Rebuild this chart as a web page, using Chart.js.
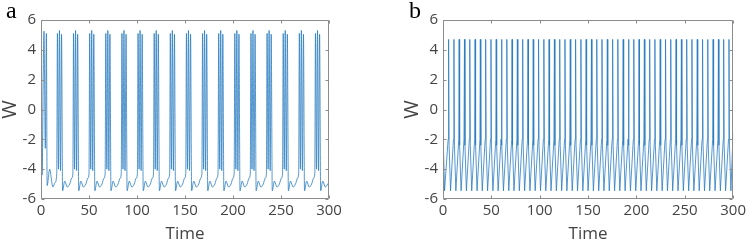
<!DOCTYPE html>
<html>
<head>
<meta charset="utf-8">
<script src="https://cdn.jsdelivr.net/npm/chart.js@4.4.1/dist/chart.umd.min.js"></script>
<style>
  body { margin: 0; background: #fff; }
  #wrap { position: relative; width: 749px; height: 243px; overflow: hidden; }
  .panel { position: absolute; top: 0; height: 243px; }
  .tag { position: absolute; font-family: "Liberation Serif", serif; font-size: 24px; color: #000; line-height: 1; }
</style>
</head>
<body>
<div id="wrap">
  <div class="panel" style="left:0;width:360px"><canvas id="chartA"></canvas></div>
  <div class="panel" style="left:402px;width:347px"><canvas id="chartB"></canvas></div>
  <div class="tag" style="left:6px;top:-2px">a</div>
  <div class="tag" style="left:409px;top:-2px">b</div>
</div>
<script>
// axis ticks
var xTicks = [0, 50, 100, 150, 200, 250, 300];
var yTicks = [-6, -4, -2, 0, 2, 4, 6];

// panel a: bursting, one burst per line
var timeA = [
  0, 0.4, 1.1, 3.1, 4.5, 5.6, 6.4, 9.0, 12.4, 14.6,
  16.4, 17.1, 18.2, 19.2, 20.3, 21.4, 22.5, 24.7, 27.4, 29.9, 32.0,
  33.2, 33.9, 35.0, 36.0, 37.1, 38.2, 39.3, 41.5, 44.2, 46.7, 48.8,
  50.0, 50.7, 51.8, 52.8, 53.9, 55.0, 56.1, 58.3, 61.0, 63.5, 65.6,
  66.8, 67.5, 68.6, 69.6, 70.7, 71.8, 72.9, 75.1, 77.8, 80.3, 82.4,
  83.6, 84.3, 85.4, 86.4, 87.5, 88.6, 89.7, 91.9, 94.6, 97.1, 99.2,
  100.4, 101.1, 102.2, 103.2, 104.3, 105.4, 106.5, 108.7, 111.4, 113.9, 116.0,
  117.2, 117.9, 119.0, 120.0, 121.1, 122.2, 123.3, 125.5, 128.2, 130.7, 132.8,
  134.0, 134.7, 135.8, 136.8, 137.9, 139.0, 140.1, 142.3, 145.0, 147.5, 149.6,
  150.8, 151.5, 152.6, 153.6, 154.7, 155.8, 156.9, 159.1, 161.8, 164.3, 166.4,
  167.6, 168.3, 169.4, 170.4, 171.5, 172.6, 173.7, 175.9, 178.6, 181.1, 183.2,
  184.4, 185.1, 186.2, 187.2, 188.3, 189.4, 190.5, 192.7, 195.4, 197.9, 200.0,
  201.2, 201.9, 203.0, 204.0, 205.1, 206.2, 207.3, 209.5, 212.2, 214.7, 216.8,
  218.0, 218.7, 219.8, 220.8, 221.9, 223.0, 224.1, 226.3, 229.0, 231.5, 233.6,
  234.8, 235.5, 236.6, 237.6, 238.7, 239.8, 240.9, 243.1, 245.8, 248.3, 250.4,
  251.6, 252.3, 253.4, 254.4, 255.5, 256.6, 257.7, 259.9, 262.6, 265.1, 267.2,
  268.4, 269.1, 270.2, 271.2, 272.3, 273.4, 274.5, 276.7, 279.4, 281.9, 284.0,
  285.2, 285.9, 287.0, 288.0, 289.1, 290.2, 291.3, 293.5, 296.2, 298.7, 300.0
];
var wA = [
  4.0, 5.2, -4.4, 5.25, -2.6, 5.1, -5.1, -4.0, -5.2, -4.9,
  -4.3, 5.1, -4.0, 5.3, -4.1, 5.05, -5.45, -4.8, -5.2, -5.0, -4.6,
  -4.3, 5.1, -4.0, 5.3, -4.1, 5.05, -5.45, -4.8, -5.2, -5.0, -4.6,
  -4.3, 5.1, -4.0, 5.3, -4.1, 5.05, -5.45, -4.8, -5.2, -5.0, -4.6,
  -4.3, 5.1, -4.0, 5.3, -4.1, 5.05, -5.45, -4.8, -5.2, -5.0, -4.6,
  -4.3, 5.1, -4.0, 5.3, -4.1, 5.05, -5.45, -4.8, -5.2, -5.0, -4.6,
  -4.3, 5.1, -4.0, 5.3, -4.1, 5.05, -5.45, -4.8, -5.2, -5.0, -4.6,
  -4.3, 5.1, -4.0, 5.3, -4.1, 5.05, -5.45, -4.8, -5.2, -5.0, -4.6,
  -4.3, 5.1, -4.0, 5.3, -4.1, 5.05, -5.45, -4.8, -5.2, -5.0, -4.6,
  -4.3, 5.1, -4.0, 5.3, -4.1, 5.05, -5.45, -4.8, -5.2, -5.0, -4.6,
  -4.3, 5.1, -4.0, 5.3, -4.1, 5.05, -5.45, -4.8, -5.2, -5.0, -4.6,
  -4.3, 5.1, -4.0, 5.3, -4.1, 5.05, -5.45, -4.8, -5.2, -5.0, -4.6,
  -4.3, 5.1, -4.0, 5.3, -4.1, 5.05, -5.45, -4.8, -5.2, -5.0, -4.6,
  -4.3, 5.1, -4.0, 5.3, -4.1, 5.05, -5.45, -4.8, -5.2, -5.0, -4.6,
  -4.3, 5.1, -4.0, 5.3, -4.1, 5.05, -5.45, -4.8, -5.2, -5.0, -4.6,
  -4.3, 5.1, -4.0, 5.3, -4.1, 5.05, -5.45, -4.8, -5.2, -5.0, -4.6,
  -4.3, 5.1, -4.0, 5.3, -4.1, 5.05, -5.45, -4.8, -5.2, -5.0, -4.6,
  -4.3, 5.1, -4.0, 5.3, -4.1, 5.05, -5.45, -4.8, -5.2, -5.0, -4.9
];

// panel b: regular spiking, one spike per line
var timeB = [
  0, 0.4, 1.6, 5.3,
  5.8, 6.3, 7.8, 10.8,
  11.3, 11.8, 13.3, 16.3,
  16.7, 17.2, 18.7, 21.7,
  22.2, 22.7, 24.2, 27.2,
  27.7, 28.2, 29.7, 32.7,
  33.2, 33.7, 35.2, 38.2,
  38.6, 39.1, 40.6, 43.6,
  44.1, 44.6, 46.1, 49.1,
  49.6, 50.1, 51.6, 54.6,
  55.0, 55.5, 57.0, 60.0,
  60.5, 61.0, 62.5, 65.5,
  66.0, 66.5, 68.0, 71.0,
  71.4, 71.9, 73.4, 76.4,
  76.9, 77.4, 78.9, 81.9,
  82.4, 82.9, 84.4, 87.4,
  87.9, 88.4, 89.9, 92.9,
  93.3, 93.8, 95.3, 98.3,
  98.8, 99.3, 100.8, 103.8,
  104.3, 104.8, 106.3, 109.3,
  109.7, 110.2, 111.7, 114.7,
  115.2, 115.7, 117.2, 120.2,
  120.7, 121.2, 122.7, 125.7,
  126.1, 126.6, 128.1, 131.1,
  131.6, 132.1, 133.6, 136.6,
  137.1, 137.6, 139.1, 142.1,
  142.6, 143.1, 144.6, 147.6,
  148.0, 148.5, 150.0, 153.0,
  153.5, 154.0, 155.5, 158.5,
  159.0, 159.5, 161.0, 164.0,
  164.4, 164.9, 166.4, 169.4,
  169.9, 170.4, 171.9, 174.9,
  175.4, 175.9, 177.4, 180.4,
  180.8, 181.3, 182.8, 185.8,
  186.3, 186.8, 188.3, 191.3,
  191.8, 192.3, 193.8, 196.8,
  197.3, 197.8, 199.3, 202.3,
  202.7, 203.2, 204.7, 207.7,
  208.2, 208.7, 210.2, 213.2,
  213.7, 214.2, 215.7, 218.7,
  219.1, 219.6, 221.1, 224.1,
  224.6, 225.1, 226.6, 229.6,
  230.1, 230.6, 232.1, 235.1,
  235.5, 236.0, 237.5, 240.5,
  241.0, 241.5, 243.0, 246.0,
  246.5, 247.0, 248.5, 251.5,
  252.0, 252.5, 254.0, 257.0,
  257.4, 257.9, 259.4, 262.4,
  262.9, 263.4, 264.9, 267.9,
  268.4, 268.9, 270.4, 273.4,
  273.8, 274.3, 275.8, 278.8,
  279.3, 279.8, 281.3, 284.3,
  284.8, 285.3, 286.8, 289.8,
  290.2, 290.7, 292.2, 295.2,
  295.7, 296.2, 297.7, 300.0
];
var wB = [
  4.0, -2.4, -5.45, -2.0,
  4.7, -2.4, -5.45, -2.0,
  4.7, -2.4, -5.45, -2.0,
  4.7, -2.4, -5.45, -2.0,
  4.7, -2.4, -5.45, -2.0,
  4.7, -2.4, -5.45, -2.0,
  4.7, -2.4, -5.45, -2.0,
  4.7, -2.4, -5.45, -2.0,
  4.7, -2.4, -5.45, -2.0,
  4.7, -2.4, -5.45, -2.0,
  4.7, -2.4, -5.45, -2.0,
  4.7, -2.4, -5.45, -2.0,
  4.7, -2.4, -5.45, -2.0,
  4.7, -2.4, -5.45, -2.0,
  4.7, -2.4, -5.45, -2.0,
  4.7, -2.4, -5.45, -2.0,
  4.7, -2.4, -5.45, -2.0,
  4.7, -2.4, -5.45, -2.0,
  4.7, -2.4, -5.45, -2.0,
  4.7, -2.4, -5.45, -2.0,
  4.7, -2.4, -5.45, -2.0,
  4.7, -2.4, -5.45, -2.0,
  4.7, -2.4, -5.45, -2.0,
  4.7, -2.4, -5.45, -2.0,
  4.7, -2.4, -5.45, -2.0,
  4.7, -2.4, -5.45, -2.0,
  4.7, -2.4, -5.45, -2.0,
  4.7, -2.4, -5.45, -2.0,
  4.7, -2.4, -5.45, -2.0,
  4.7, -2.4, -5.45, -2.0,
  4.7, -2.4, -5.45, -2.0,
  4.7, -2.4, -5.45, -2.0,
  4.7, -2.4, -5.45, -2.0,
  4.7, -2.4, -5.45, -2.0,
  4.7, -2.4, -5.45, -2.0,
  4.7, -2.4, -5.45, -2.0,
  4.7, -2.4, -5.45, -2.0,
  4.7, -2.4, -5.45, -2.0,
  4.7, -2.4, -5.45, -2.0,
  4.7, -2.4, -5.45, -2.0,
  4.7, -2.4, -5.45, -2.0,
  4.7, -2.4, -5.45, -2.0,
  4.7, -2.4, -5.45, -2.0,
  4.7, -2.4, -5.45, -2.0,
  4.7, -2.4, -5.45, -2.0,
  4.7, -2.4, -5.45, -2.0,
  4.7, -2.4, -5.45, -2.0,
  4.7, -2.4, -5.45, -2.0,
  4.7, -2.4, -5.45, -2.0,
  4.7, -2.4, -5.45, -2.0,
  4.7, -2.4, -5.45, -2.0,
  4.7, -2.4, -5.45, -2.0,
  4.7, -2.4, -5.45, -2.0,
  4.7, -2.4, -5.45, -2.0,
  4.7, -2.4, -5.45, -1.5
];

var lineColor = '#2a7cc0';
var textColor = '#444444';
var boxColor = '#8c8c8c';

// matlab style box with inward ticks
var boxPlugin = {
  id: 'box',
  afterDatasetsDraw(chart) {
    const { ctx, chartArea: a, scales: { x, y } } = chart;
    const tl = 3;
    ctx.save();
    ctx.strokeStyle = boxColor;
    ctx.lineWidth = 1;
    ctx.beginPath();
    const L = Math.round(a.left) + 0.5, R = Math.round(a.right) - 0.5;
    const T = Math.round(a.top) + 0.5, B = Math.round(a.bottom) - 0.5;
    ctx.rect(L, T, R - L, B - T);
    xTicks.forEach(v => {
      const px = Math.round(x.getPixelForValue(v)) + 0.5;
      ctx.moveTo(px, B); ctx.lineTo(px, B - tl);
      ctx.moveTo(px, T); ctx.lineTo(px, T + tl);
    });
    yTicks.forEach(v => {
      const py = Math.round(y.getPixelForValue(v)) + 0.5;
      ctx.moveTo(L, py); ctx.lineTo(L + tl, py);
      ctx.moveTo(R, py); ctx.lineTo(R - tl, py);
    });
    ctx.stroke();
    ctx.restore();
  }
};

var makeChart = (id, times, values, rightPad, smooth) => {
  const pts = times.map((t, i) => ({ x: t, y: values[i] }));
  return new Chart(document.getElementById(id), {
    type: 'line',
    data: {
      datasets: [{
        data: pts,
        borderColor: lineColor,
        borderWidth: 0.8,
        pointRadius: 0,
        fill: false,
        tension: 0,
        cubicInterpolationMode: smooth ? 'monotone' : 'default'
      }]
    },
    options: {
      responsive: true,
      maintainAspectRatio: false,
      animation: false,
      layout: { padding: { top: 20, right: rightPad, left: 0, bottom: 0 } },
      plugins: { legend: { display: false }, tooltip: { enabled: false } },
      scales: {
        x: {
          type: 'linear',
          min: 0, max: 300,
          afterBuildTicks: s => { s.ticks = xTicks.map(v => ({ value: v })); },
          afterFit: s => { s.height = 44; },
          grid: { display: false, drawTicks: false },
          border: { display: false },
          ticks: { color: textColor, padding: 3, maxRotation: 0, font: { family: 'Open Sans', size: 15 } },
          title: { display: true, text: 'Time', color: textColor, padding: 0, font: { family: 'Open Sans', size: 17, lineHeight: 1 } }
        },
        y: {
          type: 'linear',
          min: -6, max: 6,
          afterBuildTicks: s => { s.ticks = yTicks.map(v => ({ value: v })); },
          afterFit: s => { s.width = 41; },
          grid: { display: false, drawTicks: false },
          border: { display: false },
          ticks: { color: textColor, padding: 5, font: { family: 'Open Sans', size: 15 } },
          title: { display: true, text: 'W', color: textColor, padding: 0, font: { family: 'Open Sans', size: 20, lineHeight: 1 } }
        }
      }
    },
    plugins: [boxPlugin]
  });
};

makeChart('chartA', timeA, wA, 31, true);
makeChart('chartB', timeB, wB, 14, false);
</script>
</body>
</html>
